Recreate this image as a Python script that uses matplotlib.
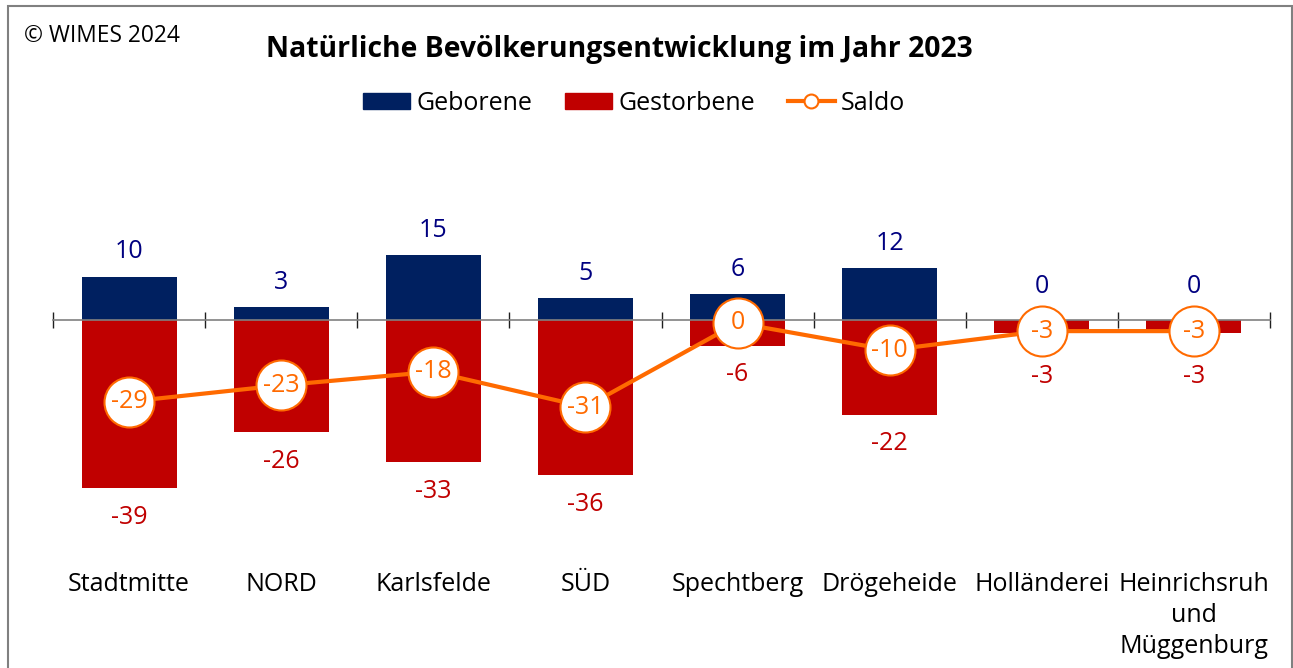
import matplotlib
matplotlib.use("Agg")
import matplotlib.pyplot as plt
from matplotlib.lines import Line2D
from matplotlib.patches import Patch, Rectangle
import matplotlib.transforms as mtransforms
import numpy as np

plt.rcParams['font.family'] = ['Open Sans', 'DejaVu Sans']

categories = ["Stadtmitte", "NORD", "Karlsfelde", "SÜD", "Spechtberg",
              "Drögeheide", "Holländerei", "Heinrichsruh\nund\nMüggenburg"]
geborene = [10, 3, 15, 5, 6, 12, 0, 0]
gestorbene = [-39, -26, -33, -36, -6, -22, -3, -3]
saldo = [-29, -23, -18, -31, 0, -10, -3, -3]

C_GEB = "#002060"
C_GEB_TXT = "#000080"
C_GES = "#C00000"
C_SAL = "#FF6A00"

DPI = 100
W, H = 1293, 668
fig = plt.figure(figsize=(W / DPI, H / DPI), dpi=DPI)

# axes placement (pixels)
ax_l, ax_r, ax_t, ax_b = 53, 1270, 130, 540
ax = fig.add_axes([ax_l / W, (H - ax_b) / H, (ax_r - ax_l) / W, (ax_b - ax_t) / H])
ax2 = ax.twinx()

x = np.arange(len(categories))
ax.bar(x, geborene, width=0.625, color=C_GEB, zorder=1)
ax.bar(x, gestorbene, width=0.625, color=C_GES, zorder=1)

ax.set_xlim(-0.5, len(categories) - 0.5)
ax.set_ylim(-51.04, 44.08)
ax2.set_ylim(-80.07, 71.2)

for a in (ax, ax2):
    for s in ("top", "right", "left"):
        a.spines[s].set_visible(False)
    a.set_yticks([])
ax2.spines["bottom"].set_visible(False)
ax.spines["bottom"].set_position(("data", 0))
ax.spines["bottom"].set_color("#808080")
ax.spines["bottom"].set_linewidth(1.2)
ax.set_xticks(np.arange(len(categories) + 1) - 0.5)
ax.set_xticklabels([])
ax.tick_params(axis="x", direction="inout", length=12, width=1, color="#202020")

ax2.plot(x, saldo, color=C_SAL, lw=3.0, marker="o", markersize=36,
         markerfacecolor="white", markeredgecolor=C_SAL, markeredgewidth=1.5,
         zorder=5, solid_capstyle="butt")

FS = 18
for i, s in enumerate(saldo):
    ax2.text(x[i], s, f"{s}", color=C_SAL, fontsize=FS, ha="center",
             va="center", zorder=6)

# value labels, avoiding markers
fig.canvas.draw()
for i in range(len(categories)):
    pm = ax2.transData.transform((x[i], saldo[i]))[1]
    pg = ax.transData.transform((x[i], geborene[i]))[1]
    pd = ax.transData.transform((x[i], gestorbene[i]))[1]
    yg = max(pg + 25, pm + 45)
    yd = min(pd - 29, pm - 45)
    ax.annotate(f"{geborene[i]}", xy=(x[i], geborene[i]),
                xytext=(0, (yg - pg) * 72 / DPI), textcoords="offset points",
                ha="center", va="center", color=C_GEB_TXT, fontsize=FS)
    ax.annotate(f"{gestorbene[i]}", xy=(x[i], gestorbene[i]),
                xytext=(0, (yd - pd) * 72 / DPI), textcoords="offset points",
                ha="center", va="center", color=C_GES, fontsize=FS)

# category labels
trans = mtransforms.blended_transform_factory(ax.transData, fig.transFigure)
for i, c in enumerate(categories):
    ax.text(x[i], (H - 572) / H, c, transform=trans, ha="center", va="top",
            fontsize=FS, color="#000000", linespacing=1.32)

fig.text(619 / W, (H - 50) / H, "Natürliche Bevölkerungsentwicklung im Jahr 2023",
         ha="center", va="center", fontsize=20.4, fontweight="bold")
fig.text(24 / W, (H - 36) / H, "© WIMES 2024", ha="left", va="center", fontsize=16.4)

LFS = 18
handles = [Patch(color=C_GEB, label="Geborene"),
           Patch(color=C_GES, label="Gestorbene"),
           Line2D([0], [0], color=C_SAL, lw=3, marker="o", markersize=10,
                  markerfacecolor="white", markeredgecolor=C_SAL,
                  markeredgewidth=1.5, label="Saldo")]
fig.legend(handles=handles, loc="center", bbox_to_anchor=(634 / W, (H - 103) / H),
           ncol=3, frameon=False, fontsize=LFS, handlelength=1.9, handleheight=0.6,
           handletextpad=0.25, columnspacing=1.3, borderpad=0)

fig.patches.append(Rectangle((7.5 / W, -0.05), (1291.5 - 7.5) / W, 1.05 - 6 / H,
                             transform=fig.transFigure, fill=False,
                             edgecolor="#808080", lw=1.5))

fig.savefig("out.png", dpi=DPI)
